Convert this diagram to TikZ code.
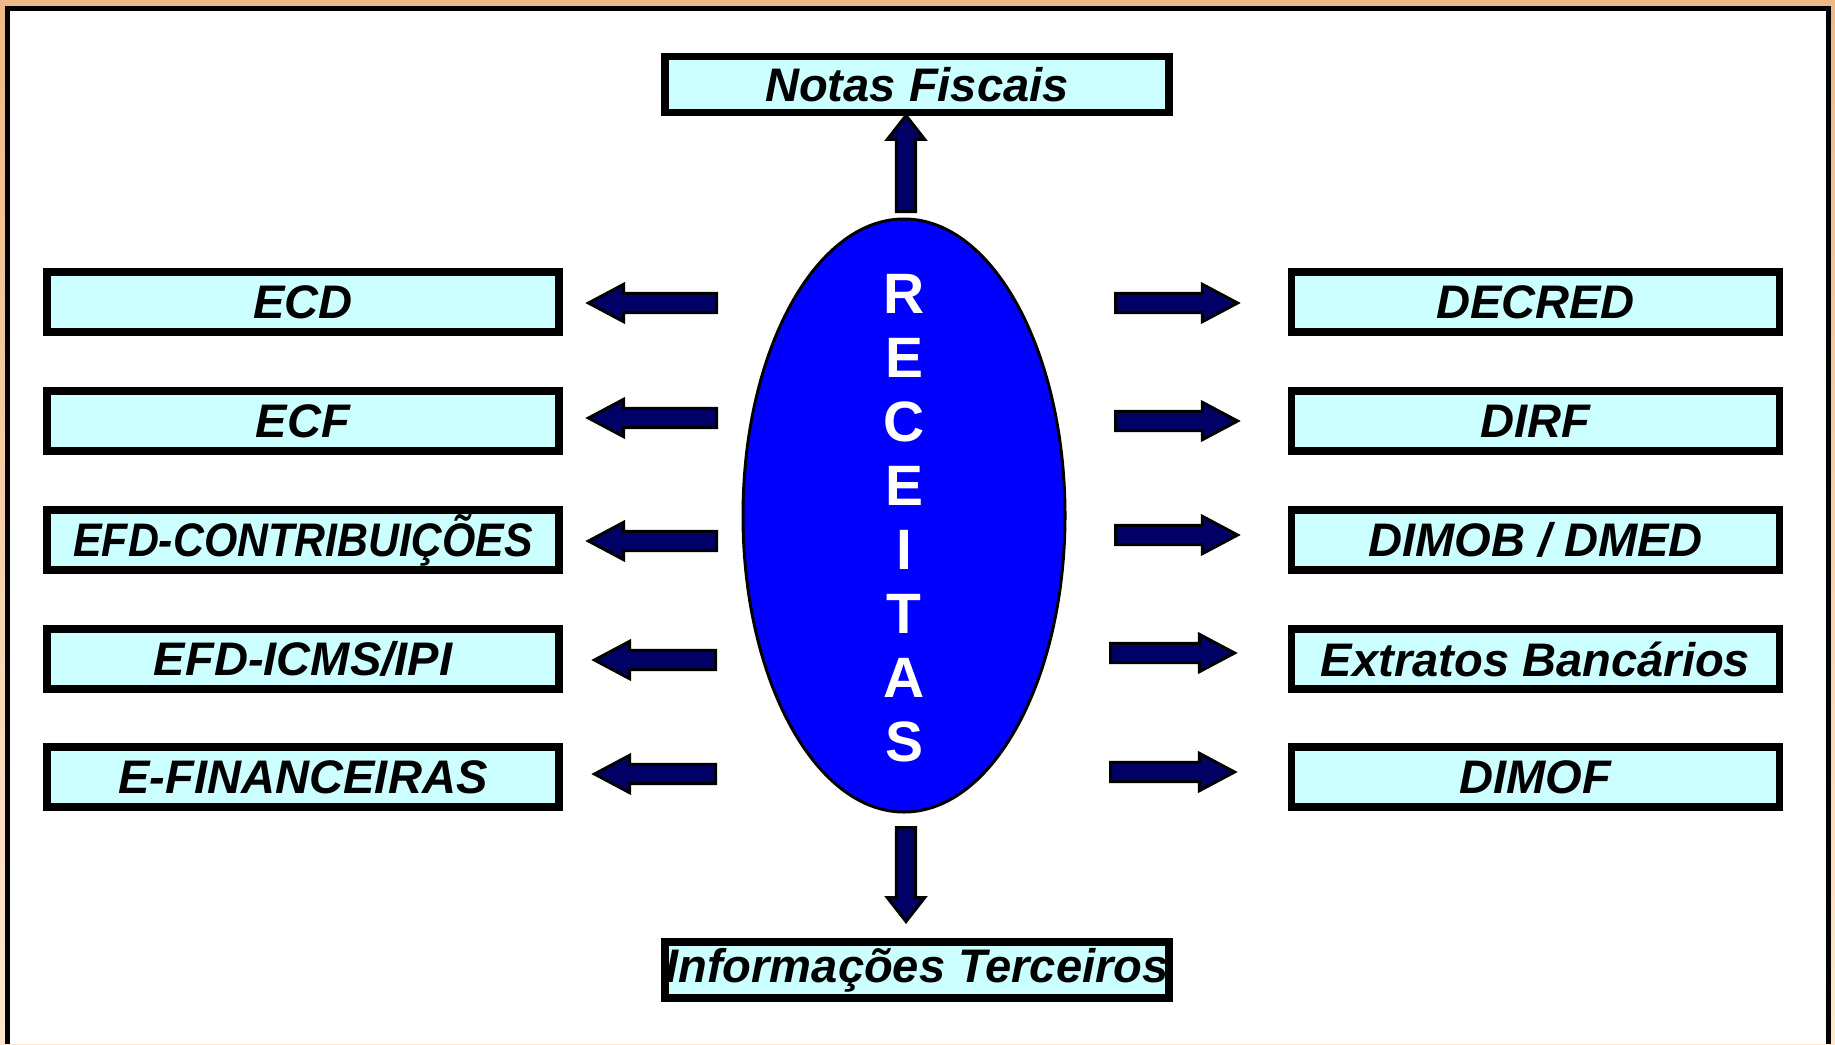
\documentclass[tikz,border=0pt]{standalone}
\usepackage{fontspec}
\usepackage{graphicx}
\setmainfont{Liberation Sans}
\usetikzlibrary{positioning,shapes.geometric,shapes.arrows}
\definecolor{cbox}{HTML}{CCFFFF}
\definecolor{crec}{HTML}{0000FF}
\definecolor{carrow}{HTML}{000066}
\definecolor{cframetop}{HTML}{EDB986}
\definecolor{cframebot}{HTML}{FFE6CC}

\begin{document}
\begin{tikzpicture}[
  x=0.1mm, y=-0.1mm,
  srcbox/.style={draw=black, line width=0.75mm, fill=cbox, inner sep=0pt, minimum height=6mm,
    font=\fontsize{13.4}{15}\selectfont\bfseries\itshape},
  lbox/.style={srcbox, minimum width=51.2mm},
  rbox/.style={srcbox, minimum width=48.8mm},
  tbox/.style={srcbox, minimum width=50.4mm, minimum height=5.6mm},
  barrow/.style={single arrow, draw=black, line width=0.3mm, fill=carrow, inner sep=0pt,
    single arrow head extend=0.9mm, anchor=tail},
  harrow/.style={barrow, text height=0.82mm, text depth=0.82mm, single arrow tip angle=56},
  varrow/.style={barrow, text width=1.64mm, text height=0pt, text depth=0pt, single arrow tip angle=76},
  rectxt/.style={text=white, align=center, inner sep=0pt,
    font=\fontsize{16.2}{18.2}\selectfont\bfseries},
]
  \useasboundingbox (0,0) rectangle (1835,1044);
  % --- moldura ---
  \shade[top color=cframetop, bottom color=cframebot] (0,0) rectangle (1835,1044);
  \fill[white] (7.5,8.5) rectangle (1828,1044);
  \draw[line width=0.5mm] (7.5,1044) |- (1828,8.5) -- (1828,1044);
  % --- elipse central ---
  \node[ellipse, draw=black, line width=0.3mm, fill=crec, minimum width=32.2mm,
    minimum height=59.3mm, inner sep=0pt] (rec) at (904,515.5) {};
  \node[rectxt] (rectxt) at (904,518) {R\\E\\C\\E\\I\\T\\A\\S};
  % --- fontes de dados ---
  \foreach \n/\y/\t in {ecd/302/ECD, ecf/421/ECF, efdc/540/{\scalebox{0.91}[1]{EFD-CONTRIBUIÇÕES}},
      efdi/659/{EFD-ICMS/IPI}, efin/777/{E-FINANCEIRAS}}
    \node[lbox] (\n) at (303,\y) {\t};
  \foreach \n/\y/\t in {decred/302/DECRED, dirf/421/DIRF, dimob/540/{DIMOB / DMED},
      extr/659/{Extratos Bancários}, dimof/777/DIMOF}
    \node[rbox] (\n) at (1535.5,\y) {\t};
  \node[tbox] (nf) at (917,84.5) {Notas Fiscais};
  \node[tbox] (inf) at (917,970) {Informações Terceiros};
  % --- setas ---
  \foreach \y/\tx/\len [count=\i] in {303/718/12.8, 418/718/12.8, 541/718/12.8, 660/717/12.1, 774/717/12.1}
    \node[harrow, shape border rotate=180, minimum height=\len mm] (la\i) at (\tx,\y) {};
  \foreach \y/\tx/\len [count=\i] in {303/1114/12.2, 421/1114/12.2, 535/1114/12.2, 653/1109/12.4, 772/1109/12.4}
    \node[harrow, minimum height=\len mm] (ra\i) at (\tx,\y) {};
  \node[varrow, shape border rotate=90, minimum height=9.6mm] (upa) at (906,213) {};
  \node[varrow, shape border rotate=270, minimum height=9.4mm] (dna) at (906,826) {};
\end{tikzpicture}
\end{document}
